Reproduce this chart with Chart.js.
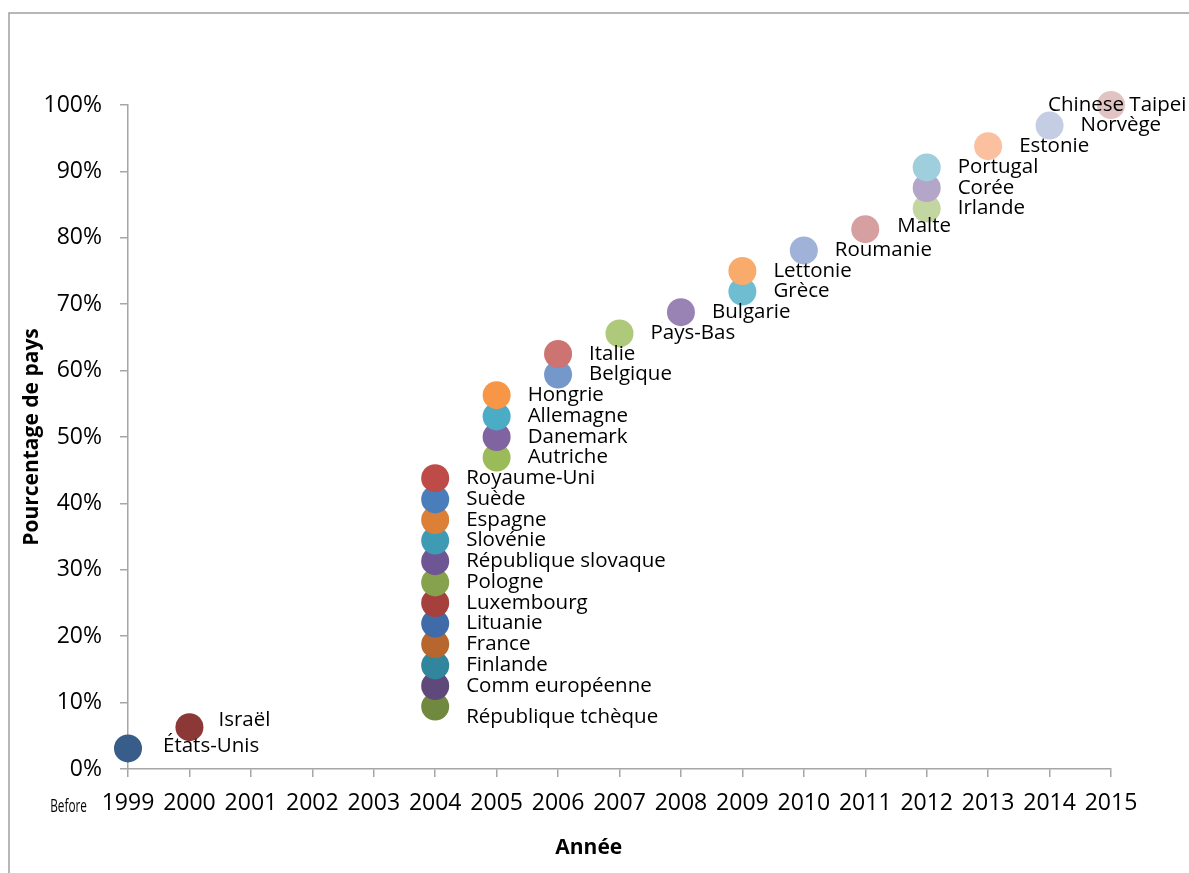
<!DOCTYPE html>
<html lang="fr">
<head>
<meta charset="utf-8">
<title>Pourcentage de pays par année</title>
<script src="https://cdn.jsdelivr.net/npm/chart.js@4.4.1/dist/chart.umd.min.js"></script>
<style>
  html, body { margin: 0; padding: 0; background: #fff; }
  canvas { display: block; }
</style>
</head>
<body>
<canvas id="myChart" width="1189" height="873"></canvas>
<script>
// data, bottom to top
const countries = [
    'États-Unis', 'Israël',
    'République tchèque', 'Comm européenne', 'Finlande', 'France', 'Lituanie', 'Luxembourg',
    'Pologne', 'République slovaque', 'Slovénie', 'Espagne', 'Suède', 'Royaume-Uni',
    'Autriche', 'Danemark', 'Allemagne', 'Hongrie',
    'Belgique', 'Italie', 'Pays-Bas', 'Bulgarie', 'Grèce', 'Lettonie', 'Roumanie', 'Malte',
    'Irlande', 'Corée', 'Portugal', 'Estonie', 'Norvège', 'Chinese Taipei'
];
const years = [
    1999, 2000,
    2004, 2004, 2004, 2004, 2004, 2004, 2004, 2004, 2004, 2004, 2004, 2004,
    2005, 2005, 2005, 2005,
    2006, 2006, 2007, 2008, 2009, 2009, 2010, 2011,
    2012, 2012, 2012, 2013, 2014, 2015
];
const shares = [
    3.1, 6.3,
    9.4, 12.5, 15.6, 18.8, 21.9, 25.0, 28.1, 31.3, 34.4, 37.5, 40.6, 43.8,
    46.9, 50.0, 53.1, 56.3,
    59.4, 62.5, 65.6, 68.8, 71.9, 75.0, 78.1, 81.3,
    84.4, 87.5, 90.6, 93.8, 96.9, 100.0
];
const yTicks = [0, 10, 20, 30, 40, 50, 60, 70, 80, 90, 100];
const firstLabel = 'Before';

const colors = [
    '#385D8A', '#8C3836',
    '#71893F', '#5F497A', '#31859C', '#B7672E', '#3F6BA8', '#A5403D',
    '#86A24C', '#6E5593', '#3E9BB3', '#DC8038', '#4A7EBB', '#BE4B48',
    '#9BBB59', '#8064A2', '#4BACC6', '#F79646',
    '#7598CB', '#CD7371', '#AFC97A', '#9983B5', '#6FBDD1', '#F9AB6B', '#A0B2D7', '#D7A0A0',
    '#C3D6A2', '#B3A6C8', '#9FCFDD', '#FAC0A0', '#C4CDE3', '#E2C3C3'
];

// label offsets that differ from the default (dx, dy)
const labelNudge = {
    'États-Unis': [35, -2],
    'Israël': [29, -7],
    'République tchèque': [31, 11],
    'Malte': [32, -3],
    'Chinese Taipei': [-63, 0]
};

const axisGray = '#A6A6A6';
const font = '"Open Sans", "Noto Sans", sans-serif';

const pointLabels = {
    id: 'pointLabels',
    afterDatasetsDraw(chart) {
        const ctx = chart.ctx;
        const meta = chart.getDatasetMeta(0);
        ctx.save();
        ctx.font = '20.5px ' + font;
        ctx.fillStyle = '#000';
        ctx.textAlign = 'left';
        ctx.textBaseline = 'middle';
        meta.data.forEach(function(pt, i) {
            const n = labelNudge[countries[i]] || [31, 0];
            ctx.fillText(countries[i], pt.x + n[0], pt.y + n[1]);
        });
        ctx.restore();
    }
};

const frame = {
    id: 'frame',
    afterDraw(chart) {
        const ctx = chart.ctx;
        const x = chart.scales.x;
        ctx.save();
        ctx.strokeStyle = '#A0A0A0';
        ctx.lineWidth = 1.5;
        ctx.beginPath();
        ctx.moveTo(9, chart.height);
        ctx.lineTo(9, 13);
        ctx.lineTo(chart.width, 13);
        ctx.stroke();

        // "Before" sits one step left of the first year
        const bx = x.getPixelForValue(years[0] - 1);
        ctx.fillStyle = '#000';
        ctx.textAlign = 'center';
        ctx.textBaseline = 'middle';
        ctx.translate(bx + 2, 807);
        ctx.scale(0.62, 1);
        ctx.font = '19px ' + font;
        ctx.fillText(firstLabel, 0, 0);
        ctx.restore();

        // axis title, centred over the whole category span
        ctx.save();
        ctx.font = 'bold 21px ' + font;
        ctx.fillStyle = '#000';
        ctx.textAlign = 'center';
        ctx.textBaseline = 'middle';
        const cx = (x.getPixelForValue(years[0] - 1) + x.getPixelForValue(2015)) / 2;
        ctx.fillText('Année', cx, 848);
        ctx.restore();
    }
};

const ctx = document.getElementById('myChart').getContext('2d');
const myChart = new Chart(ctx, {
    type: 'scatter',
    data: {
        datasets: [{
            label: 'Pays',
            data: countries.map(function(c, i) { return { x: years[i], y: shares[i] }; }),
            pointBackgroundColor: colors,
            pointBorderWidth: 0,
            pointRadius: 14,
            pointHoverRadius: 14,
            clip: false
        }]
    },
    options: {
        responsive: false,
        devicePixelRatio: 1,
        animation: false,
        layout: {
            padding: { left: 0, right: 78, top: 105, bottom: 0 }
        },
        plugins: {
            legend: { display: false },
            tooltip: { enabled: false }
        },
        scales: {
            x: {
                type: 'linear',
                min: 1999,
                max: 2015,
                afterFit: function(s) { s.height = 104; },
                afterBuildTicks: function(s) {
                    s.ticks = [];
                    for (let i = 0; i <= 16; i++) s.ticks.push({ value: 1999 + i });
                },
                ticks: {
                    color: '#000',
                    padding: 13,
                    maxRotation: 0,
                    autoSkip: false,
                    font: { family: font, size: 23 },
                    callback: function(v) { return String(v); }
                },
                grid: { drawOnChartArea: false, tickLength: 8, color: axisGray, lineWidth: 1.5 },
                border: { color: axisGray, width: 1.5 }
            },
            y: {
                min: 0,
                max: 100,
                afterFit: function(s) { s.width = 128; },
                afterBuildTicks: function(s) {
                    s.ticks = yTicks.map(function(v) { return { value: v }; });
                },
                ticks: {
                    color: '#000',
                    padding: 18,
                    font: { family: font, size: 23 },
                    callback: function(v) { return v + '%'; }
                },
                grid: { drawOnChartArea: false, tickLength: 8, color: axisGray, lineWidth: 1.5 },
                border: { color: axisGray, width: 1.5 },
                title: {
                    display: true,
                    text: 'Pourcentage de pays',
                    color: '#000',
                    font: { family: font, size: 21, weight: 'bold' },
                    padding: { top: 19, bottom: 0 }
                }
            }
        }
    },
    plugins: [pointLabels, frame]
});
</script>
</body>
</html>
